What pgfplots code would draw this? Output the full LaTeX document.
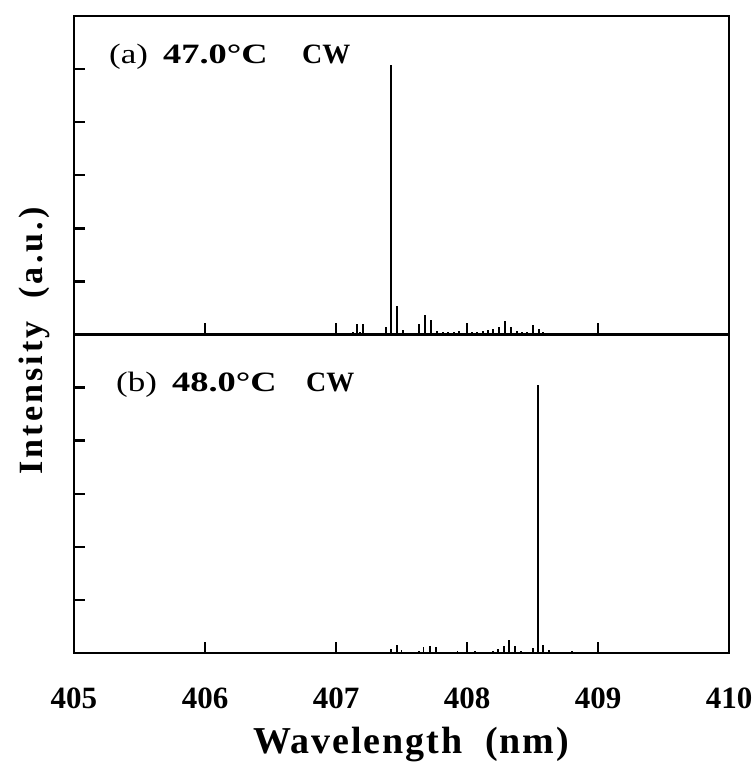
\documentclass[border=0pt]{standalone}
\usepackage{fontspec}
\setmainfont{Liberation Serif}
\usepackage{graphicx}
\usepackage{pgfplots}
\pgfplotsset{compat=1.18}

\pgfplotstableread{
x y
407.160 0.19
407.183 0.05
407.206 0.19
407.130 0.04
406.660 0.02
406.910 0.02
407.382 0.15
407.466 0.53
407.511 0.09
407.580 0.03
407.600 0.03
407.634 0.20
407.679 0.37
407.725 0.27
407.771 0.06
407.817 0.05
407.855 0.04
407.901 0.05
407.939 0.07
408.000 0.12
408.038 0.05
408.076 0.05
408.122 0.06
408.160 0.08
408.198 0.11
408.244 0.15
408.290 0.25
408.336 0.15
408.382 0.06
408.420 0.04
408.458 0.05
408.504 0.17
408.550 0.11
408.580 0.04
}\dataA

\pgfplotstableread{
x y
407.200 0.02
407.240 0.02
407.420 0.08
407.466 0.15
407.500 0.06
407.550 0.02
407.634 0.04
407.670 0.11
407.718 0.14
407.763 0.12
407.810 0.02
407.847 0.02
407.893 0.02
407.930 0.04
408.000 0.15
408.060 0.04
408.115 0.02
408.153 0.02
408.198 0.04
408.237 0.08
408.283 0.13
408.321 0.25
408.366 0.13
408.412 0.04
408.458 0.02
408.504 0.10
408.580 0.15
408.626 0.05
408.802 0.04
}\dataB

\begin{document}
\begin{tikzpicture}
\pgfplotsset{
  panel/.style={
    scale only axis, width=655pt, height=318.5pt,
    xmin=405, xmax=410, ymin=0, ymax=6,
    xtick={405,406,407,408,409,410}, ytick={1,2,3,4,5},
    yticklabels={},
    tick align=inside,
    xtick pos=left, ytick pos=left,
    major tick length=11pt,
    line width=2pt,
    every tick/.style={line width=2.4pt, black},
    axis line style={line width=2pt},
    /pgf/number format/assume math mode=true,
  }
}
\path[use as bounding box] (-74pt,-110pt) rectangle (681pt,653pt);
% bottom panel (b)
\begin{axis}[panel, at={(0pt,0pt)}, anchor=south west,
  xticklabel style={font=\fontsize{31}{31}\selectfont\bfseries, anchor=base, yshift=-55pt},
  /pgf/number format/.cd, 1000 sep={}]
\addplot[ycomb, black, line width=1.3pt] table[x=x,y=y] {\dataB};
\addplot[ycomb, black, line width=1.8pt] coordinates {(408.542,5.05)};
\end{axis}
% top panel (a)
\begin{axis}[panel, at={(0pt,318.5pt)}, anchor=south west, xticklabels={}]
\addplot[ycomb, black, line width=1.3pt] table[x=x,y=y] {\dataA};
\addplot[ycomb, black, line width=1.8pt] coordinates {(407.420,5.08)};
\end{axis}
% labels
\node[anchor=base, rotate=90, font=\fontsize{34}{34}\selectfont\bfseries\addfontfeature{LetterSpace=9}] at (-31pt,312pt) {Intensity\ \ (a.u.)};
\node[anchor=base, font=\fontsize{38}{38}\selectfont\bfseries\addfontfeature{LetterSpace=5}] at (337pt,-100pt) {Wavelength\ \ (nm)};
% panel labels
\node[anchor=base west, inner sep=0pt, font=\fontsize{28}{28}\selectfont] at (35pt,589pt) {\scalebox{1.25}[1]{(a)}};
\node[anchor=base west, inner sep=0pt, font=\fontsize{28}{28}\selectfont\bfseries] at (89pt,589pt) {\scalebox{1.3}[1]{47.0°C}};
\node[anchor=base west, inner sep=0pt, font=\fontsize{28}{28}\selectfont\bfseries] at (228pt,589pt) {CW};
\node[anchor=base west, inner sep=0pt, font=\fontsize{28}{28}\selectfont] at (42pt,261pt) {\scalebox{1.25}[1]{(b)}};
\node[anchor=base west, inner sep=0pt, font=\fontsize{28}{28}\selectfont\bfseries] at (98pt,261pt) {\scalebox{1.3}[1]{48.0°C}};
\node[anchor=base west, inner sep=0pt, font=\fontsize{28}{28}\selectfont\bfseries] at (232pt,261pt) {CW};
\end{tikzpicture}
\end{document}
